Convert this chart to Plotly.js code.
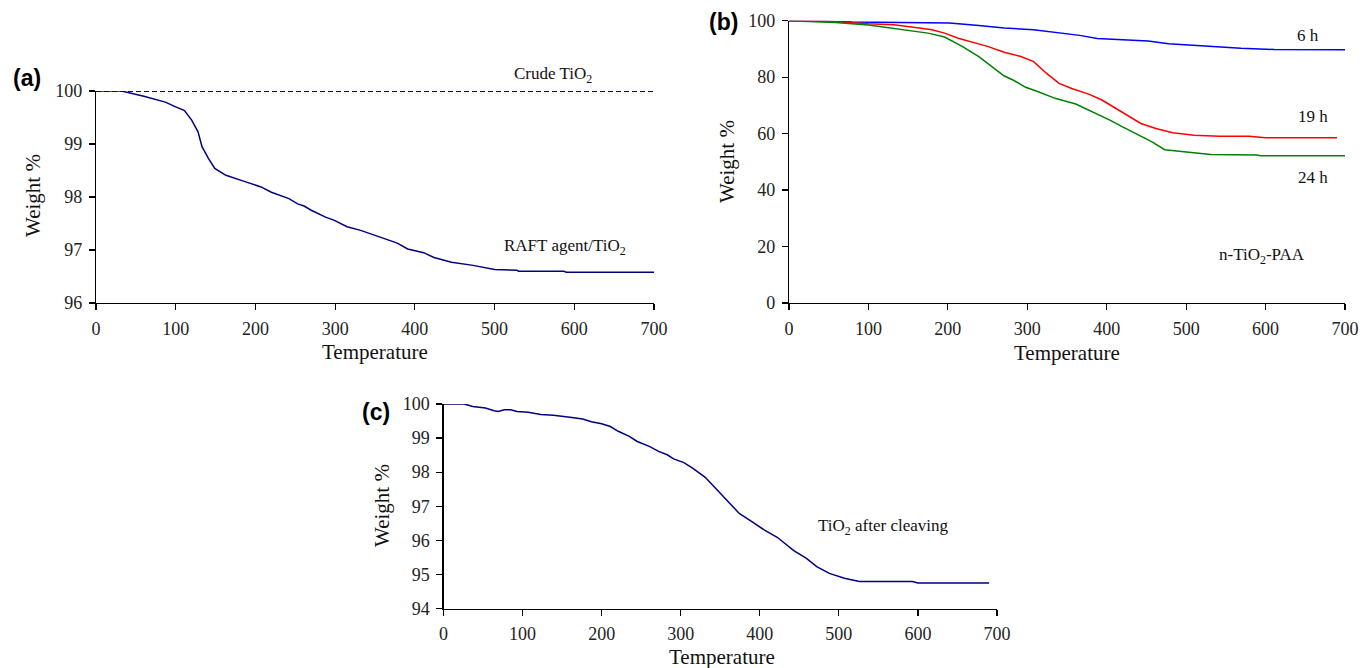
<!DOCTYPE html>
<html>
<head>
<meta charset="utf-8">
<script src="https://cdn.plot.ly/plotly-3.0.1.min.js"></script>
<style>html,body{margin:0;padding:0;background:#fff;}#chart{width:1362px;height:668px;}</style>
</head>
<body>
<div id="chart"></div>
<script>
// Panel (a)
const aCrudeT = [0, 700];
const aCrudeW = [100, 100];
const aRaftT = [0, 32, 60, 87, 100, 111, 120, 128, 133, 141, 149, 163, 185, 207, 220, 242, 253, 261, 270, 280, 288, 299, 315, 332, 353, 367, 378, 391, 411, 424, 446, 473, 500, 528, 530, 587, 590, 700];
const aRaftW = [100, 100, 99.9, 99.79, 99.7, 99.63, 99.45, 99.23, 98.95, 98.73, 98.54, 98.41, 98.3, 98.19, 98.09, 97.97, 97.87, 97.83, 97.75, 97.68, 97.62, 97.56, 97.44, 97.37, 97.26, 97.19, 97.13, 97.02, 96.95, 96.86, 96.77, 96.71, 96.63, 96.62, 96.6, 96.6, 96.58, 96.58];
// Panel (b)
const b6T = [0, 40, 79, 154, 202, 239, 271, 308, 340, 366, 388, 420, 452, 478, 505, 531, 569, 611, 700];
const b6W = [100, 99.9, 99.5, 99.4, 99.2, 98.3, 97.4, 96.8, 95.6, 94.8, 93.7, 93.2, 92.8, 91.8, 91.3, 90.9, 90.2, 89.8, 89.7];
const b19T = [0, 47, 100, 132, 164, 180, 196, 213, 250, 271, 292, 308, 324, 340, 356, 378, 394, 415, 430, 443, 462, 483, 510, 542, 579, 600, 690];
const b19W = [100, 99.8, 98.9, 98.6, 97.4, 96.8, 95.6, 93.8, 90.9, 88.8, 87.3, 85.5, 81.4, 77.8, 76.0, 73.9, 71.9, 68.3, 66.0, 63.6, 61.8, 60.3, 59.4, 59.1, 59.1, 58.5, 58.5];
const b24T = [0, 58, 100, 132, 175, 196, 218, 239, 255, 271, 282, 298, 313, 335, 361, 383, 404, 420, 441, 457, 473, 499, 526, 531, 589, 594, 700];
const b24W = [100, 99.4, 98.5, 97.2, 95.6, 94.2, 90.9, 87.3, 83.7, 80.4, 79.0, 76.4, 74.9, 72.5, 70.5, 67.7, 64.8, 62.4, 59.4, 57.1, 54.3, 53.5, 52.9, 52.6, 52.4, 52.2, 52.2];
// Panel (c)
const cT = [0, 26, 37, 53, 64, 69, 77, 85, 93, 107, 123, 139, 160, 176, 187, 200, 211, 221, 235, 245, 261, 272, 283, 291, 304, 315, 331, 342, 360, 374, 390, 406, 422, 432, 443, 459, 472, 488, 507, 526, 593, 600, 690];
const cW = [100, 100, 99.93, 99.88, 99.8, 99.78, 99.83, 99.83, 99.78, 99.76, 99.69, 99.67, 99.61, 99.56, 99.48, 99.42, 99.34, 99.2, 99.05, 98.9, 98.75, 98.61, 98.51, 98.39, 98.28, 98.12, 97.85, 97.58, 97.14, 96.79, 96.55, 96.3, 96.09, 95.91, 95.7, 95.47, 95.23, 95.03, 94.89, 94.79, 94.79, 94.75, 94.75];

const W = 1362, H = 668;
const px = v => v / W;
const py = v => 1 - v / H;
const serif = '"Times New Roman", "Liberation Serif", serif';
const navy = '#000080';

const traces = [
  {x: aCrudeT, y: aCrudeW, xaxis: 'x', yaxis: 'y', mode: 'lines', line: {color: navy, width: 1.8, dash: '5px,3px'}},
  {x: aRaftT, y: aRaftW, xaxis: 'x', yaxis: 'y', mode: 'lines', line: {color: navy, width: 1.5}},
  {x: b6T, y: b6W, xaxis: 'x2', yaxis: 'y2', mode: 'lines', line: {color: '#0000ff', width: 1.5}},
  {x: b19T, y: b19W, xaxis: 'x2', yaxis: 'y2', mode: 'lines', line: {color: '#ff0000', width: 1.5}},
  {x: b24T, y: b24W, xaxis: 'x2', yaxis: 'y2', mode: 'lines', line: {color: '#008000', width: 1.5}},
  {x: cT, y: cW, xaxis: 'x3', yaxis: 'y3', mode: 'lines', line: {color: navy, width: 1.5}}
];

const axBase = {
  showline: true, linecolor: '#000', linewidth: 1.2, ticks: 'outside', ticklen: 6, tickwidth: 1.2,
  tickcolor: '#000', showgrid: false, zeroline: false, fixedrange: true, ticklabelstandoff: 3,
  tickfont: {family: serif, size: 18, color: '#222'}
};
const xa = (dom, anchor) => Object.assign({}, axBase, {domain: dom, anchor: anchor, range: [0, 700], tickvals: [0,100,200,300,400,500,600,700]});
const ya = (dom, anchor, rng, dt) => Object.assign({}, axBase, {domain: dom, anchor: anchor, range: rng, dtick: dt, tick0: rng[0]});

const txt = (x, y, t, xref, yref, size, extra) => Object.assign({x: x, y: y, text: t, xref: xref, yref: yref, showarrow: false,
  font: {family: serif, size: size, color: '#111'}, xanchor: 'center', yanchor: 'middle'}, extra || {});
const lab = (x, y, t) => ({x: px(x), y: py(y), xref: 'paper', yref: 'paper', text: '<b>' + t + '</b>', showarrow: false,
  xanchor: 'center', yanchor: 'middle', font: {family: '"Liberation Sans", Arial, sans-serif', size: 23, color: '#000'}});

const annotations = [
  txt(px(553), py(75), 'Crude TiO<sub>2</sub>', 'paper', 'paper', 17),
  txt(588, 97.06, 'RAFT agent/TiO<sub>2</sub>', 'x', 'y', 17),
  txt(654, 94.6, '6 h', 'x2', 'y2', 17),
  txt(660, 66.2, '19 h', 'x2', 'y2', 17),
  txt(660, 44.6, '24 h', 'x2', 'y2', 17),
  txt(596, 16.6, 'n-TiO<sub>2</sub>-PAA', 'x2', 'y2', 17),
  txt(556, 96.39, 'TiO<sub>2</sub> after cleaving', 'x3', 'y3', 17),
  txt(px(375), py(352), 'Temperature', 'paper', 'paper', 21),
  txt(px(1067), py(353), 'Temperature', 'paper', 'paper', 21),
  txt(px(722), py(657), 'Temperature', 'paper', 'paper', 21),
  txt(px(33), py(196), 'Weight %', 'paper', 'paper', 21, {textangle: -90}),
  txt(px(727), py(162), 'Weight %', 'paper', 'paper', 21, {textangle: -90}),
  txt(px(382), py(506), 'Weight %', 'paper', 'paper', 21, {textangle: -90}),
  lab(27, 78, '(a)'),
  lab(723, 22, '(b)'),
  lab(376, 412, '(c)')
];

const layout = {
  width: W, height: H, margin: {l: 0, r: 0, t: 0, b: 0},
  font: {family: serif, size: 18, color: '#222'},
  paper_bgcolor: '#fff', plot_bgcolor: '#fff', showlegend: false,
  xaxis: xa([px(96), px(654)], 'y'),
  yaxis: ya([py(303), py(91)], 'x', [96, 100], 1),
  xaxis2: xa([px(789), px(1345)], 'y2'),
  yaxis2: ya([py(303), py(20.7)], 'x2', [0, 100], 20),
  xaxis3: xa([px(443.5), px(997)], 'y3'),
  yaxis3: ya([py(608.5), py(404)], 'x3', [94, 100], 1),
  annotations: annotations
};

Plotly.newPlot('chart', traces, layout, {displayModeBar: false, staticPlot: true});
</script>
</body>
</html>
